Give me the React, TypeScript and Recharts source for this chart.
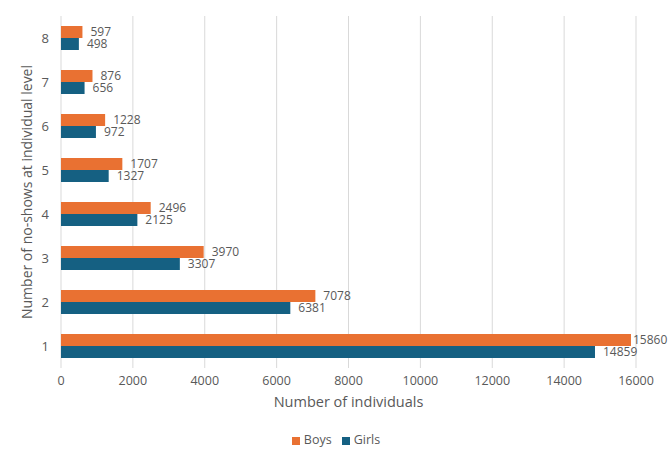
import { BarChart, Bar, XAxis, YAxis, CartesianGrid, Legend, LabelList } from 'recharts';

// No-shows per individual, split by gender
const levels = ['1', '2', '3', '4', '5', '6', '7', '8'];
const boys = [15860, 7078, 3970, 2496, 1707, 1228, 876, 597];
const girls = [14859, 6381, 3307, 2125, 1327, 972, 656, 498];
const xTicks = [0, 2000, 4000, 6000, 8000, 10000, 12000, 14000, 16000];

const ORANGE = '#E97132';
const BLUE = '#156082';
const TEXT = '#595959';
const FONT = '"Open Sans", sans-serif';
const CHART_W = 669;
const LABEL_SIZE = 12;

const data = levels.map((level, i) => ({ level, Boys: boys[i], Girls: girls[i] }));

// value label just past the bar end; pulled back inside the chart if it would run off the edge
function ValueLabel(props: any) {
  const { x, y, width, height, value } = props;
  const text = String(value);
  const textW = text.length * LABEL_SIZE * 0.58;
  let lx = x + width + 8;
  if (lx + textW > CHART_W - 3) lx = x + width + 2;
  return (
    <text x={lx} y={y + height / 2} dy="0.35em" fill={TEXT} fontSize={LABEL_SIZE} fontFamily={FONT}>
      {text}
    </text>
  );
}

export default function App() {
  return (
    <div style={{ position: 'absolute', left: 0, top: 0, background: '#fff', fontFamily: FONT }}>
      <BarChart
        width={CHART_W}
        height={462}
        data={data}
        layout="vertical"
        margin={{ top: 16, right: 33, left: 0, bottom: 27 }}
        barGap={0}
      >
        <CartesianGrid horizontal={false} stroke="#D9D9D9" />
        <XAxis
          type="number"
          domain={[0, 16000]}
          ticks={xTicks}
          axisLine={false}
          tickLine={false}
          tickSize={0}
          tickMargin={8}
          height={50}
          tick={{ fill: TEXT, fontSize: 12.5, fontFamily: FONT }}
          label={{ value: 'Number of individuals', position: 'insideBottom', offset: 11, fill: TEXT, fontSize: 14.5, fontFamily: FONT }}
        />
        <YAxis
          type="category"
          dataKey="level"
          reversed
          width={61}
          axisLine={false}
          tickLine={false}
          tickSize={0}
          tickMargin={12}
          tick={{ fill: TEXT, fontSize: 13, fontFamily: FONT }}
          label={{ value: 'Number of no-shows at individual level', angle: -90, position: 'center', dx: -3, fill: TEXT, fontSize: 14, fontFamily: FONT }}
        />
        <Legend
          verticalAlign="bottom"
          iconType="square"
          iconSize={8}
          wrapperStyle={{ fontSize: 12.5, fontFamily: FONT, bottom: 14, left: 23 }}
          formatter={(value: any) => <span style={{ color: TEXT }}>{value}</span>}
        />
        <Bar dataKey="Boys" fill={ORANGE} barSize={12} isAnimationActive={false}>
          <LabelList dataKey="Boys" content={ValueLabel} />
        </Bar>
        <Bar dataKey="Girls" fill={BLUE} barSize={12} isAnimationActive={false}>
          <LabelList dataKey="Girls" content={ValueLabel} />
        </Bar>
      </BarChart>
    </div>
  );
}
